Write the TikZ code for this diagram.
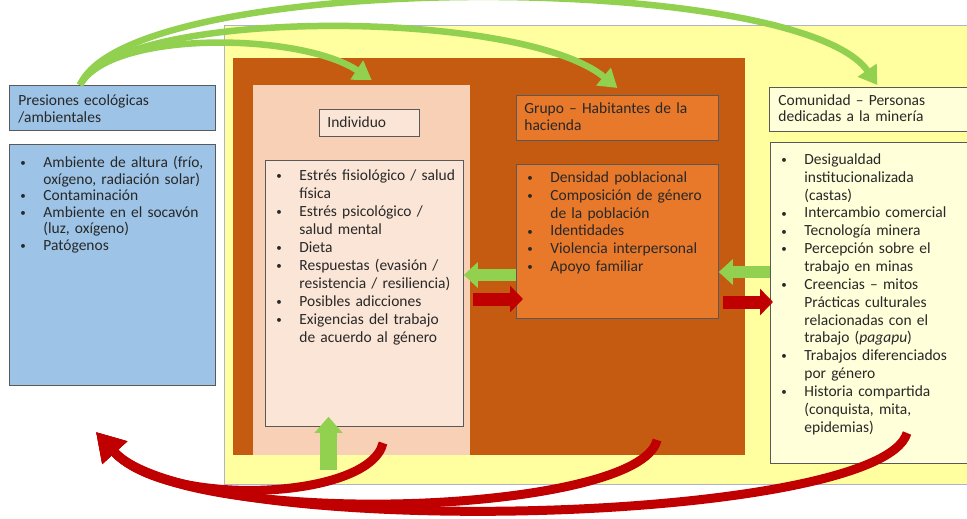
\documentclass[tikz,border=0pt]{standalone}
\usepackage{fontspec}
\setmainfont{Carlito}
\usetikzlibrary{arrows.meta}
\definecolor{envBlue}{RGB}{157,195,230}
\definecolor{commYellow}{RGB}{255,255,160}
\definecolor{commCream}{RGB}{255,255,218}
\definecolor{groupRust}{RGB}{197,90,17}
\definecolor{groupOrange}{RGB}{232,120,42}
\definecolor{indivPeach}{RGB}{248,208,182}
\definecolor{indivPale}{RGB}{251,229,214}
\definecolor{frameGray}{RGB}{89,89,89}
\definecolor{edgeGray}{RGB}{175,178,200}
\definecolor{textGray}{RGB}{40,40,40}
\definecolor{arrowGreen}{RGB}{146,208,80}
\definecolor{arrowRed}{RGB}{192,0,0}

\newcommand{\bitem}[1]{\noindent\rightskip=0pt minus 25pt\relax
  \hangindent=23pt\hangafter=1
  \makebox[23pt][l]{\raisebox{0.8pt}{\fontsize{11}{11}\selectfont\textbullet}}#1\par}

\begin{document}
\begin{tikzpicture}[x=1pt, y=-1pt,
  backdrop/.style={anchor=north west, inner sep=0pt, fill=#1},
  titlebox/.style={anchor=north west, draw=frameGray, line width=0.8pt,
                   fill=#1, inner ysep=0pt, text=textGray,
                   font=\fontsize{15.5}{17}\selectfont},
  listbox/.style={titlebox=#1, inner xsep=11pt},
  greenArc/.style={draw=arrowGreen, line width=6.5pt,
                   -{Triangle[width=22pt,length=18pt]}},
  redArc/.style={draw=arrowRed, line width=9pt,
                 -{Triangle[width=32pt,length=28pt]}},
  greenBlock/.style={draw=arrowGreen, line width=12pt,
                     -{Triangle[width=25pt,length=14pt]}},
  redBlock/.style={draw=arrowRed, line width=13pt,
                   -{Triangle[width=26pt,length=13pt]}}
]
  \useasboundingbox (0,0) rectangle (967,519);

  \node[backdrop=commYellow, draw=edgeGray, minimum width=743pt,
        minimum height=459pt] (commBg) at (224,25) {};
  \node[backdrop=groupRust, minimum width=512pt,
        minimum height=397pt] (groupBg) at (233,58) {};
  \node[backdrop=indivPeach, minimum width=217pt,
        minimum height=370pt] (indivBg) at (253,85) {};

  \node[titlebox=envBlue, inner xsep=9pt, text width=188pt,
        text height=20pt, text depth=25pt] (presTitle) at (9,85)
    {Presiones ecológicas\newline /ambientales};
  \node[listbox=envBlue, text width=184pt, text height=23pt,
        text depth=218pt, font=\fontsize{15.5}{16.6}\selectfont]
        (presList) at (9,144) {%
    \bitem{Ambiente de altura (frío,\newline oxígeno, radiación solar)}%
    \bitem{Contaminación}%
    \bitem{Ambiente en el socavón\newline (luz, oxígeno)}%
    \bitem{Patógenos}};

  \node[titlebox=indivPale, inner xsep=8pt, text width=84pt,
        text height=18pt, text depth=9pt] (indivTitle) at (319,109)
    {Individuo};
  \node[listbox=indivPale, text width=176pt, text height=20pt,
        text depth=246pt, font=\fontsize{15.5}{18}\selectfont]
        (indivList) at (265,160) {%
    \bitem{Estrés fisiológico / salud\newline física}%
    \bitem{Estrés psicológico /\newline salud mental}%
    \bitem{Dieta}%
    \bitem{Respuestas (evasión /\newline resistencia / resiliencia)}%
    \bitem{Posibles adicciones}%
    \bitem{Exigencias del trabajo\newline de acuerdo al género}};

  \node[titlebox=groupOrange, inner xsep=8pt, text width=186pt,
        text height=18pt, text depth=27pt] (groupTitle) at (516,95)
    {Grupo – Habitantes de la\newline hacienda};
  \node[listbox=groupOrange, text width=180pt, text height=18pt,
        text depth=136pt, font=\fontsize{15.5}{17.8}\selectfont]
        (groupList) at (516,164) {%
    \bitem{Densidad poblacional}%
    \bitem{Composición de género\newline de la población}%
    \bitem{Identidades}%
    \bitem{Violencia interpersonal}%
    \bitem{Apoyo familiar}};

  \node[titlebox=commCream, inner xsep=9pt, text width=180pt,
        text height=18pt, text depth=26pt,
        font=\fontsize{15.5}{16}\selectfont] (commTitle) at (769,87)
    {Comunidad – Personas\newline dedicadas a la minería};
  \node[listbox=commCream, text width=175pt, text height=22pt,
        text depth=299pt, font=\fontsize{15.5}{17.85}\selectfont]
        (commList) at (770,142) {%
    \bitem{Desigualdad\newline institucionalizada\newline (castas)}%
    \bitem{Intercambio comercial}%
    \bitem{Tecnología minera}%
    \bitem{Percepción sobre el\newline trabajo en minas}%
    \bitem{Creencias – mitos\newline Prácticas culturales\newline
      relacionadas con el\newline trabajo (\textit{pagapu})}%
    \bitem{Trabajos diferenciados\newline por género}%
    \bitem{Historia compartida\newline (conquista, mita,\newline epidemias)}};

  \coordinate (indivOut) at (383,443);
  \coordinate (groupOut) at (657,440);
  \coordinate (commOut) at (907,433);
  \coordinate (envIn) at (96,432);

  \draw[greenArc] (presTitle.north -| 80,0) .. controls +(30,-55)
    and +(-72,-48) .. ([xshift=10pt,yshift=5pt]indivBg.north);
  \draw[greenArc] (presTitle.north -| 80,0) .. controls +(40,-78)
    and +(-97,-80) .. ([yshift=7pt]groupTitle.north);
  \draw[greenArc] (presTitle.north -| 80,0) .. controls +(50,-115)
    and +(-80,-115) .. ([xshift=9pt,yshift=2pt]commTitle.north);

  \draw[greenBlock] (groupList.west |- 0,275) -- (indivList.east |- 0,275);
  \draw[redBlock, shorten <=3pt, shorten >=-7pt]
    (indivBg.east |- 0,299) -- (groupList.west |- 0,299);
  \draw[greenBlock] (commList.west |- 0,272) -- (groupList.east |- 0,272);
  \draw[redBlock, shorten <=4pt, shorten >=-3pt]
    (groupList.east |- 0,302) -- (commList.west |- 0,302);
  \draw[greenBlock, line width=17pt, -{Triangle[width=27pt,length=16pt]},
        shorten <=14pt, shorten >=-10pt]
    (commBg.south -| 328.5,0) -- (indivList.south -| 328.5,0);

  \draw[redArc] (indivOut) .. controls +(-13,57) and +(70,77) .. (envIn);
  \draw[redArc] (groupOut) .. controls +(-17,75) and +(90,99) .. (envIn);
  \draw[redArc] (commOut) .. controls +(-27,92) and +(100,110) .. (envIn);
\end{tikzpicture}
\end{document}
